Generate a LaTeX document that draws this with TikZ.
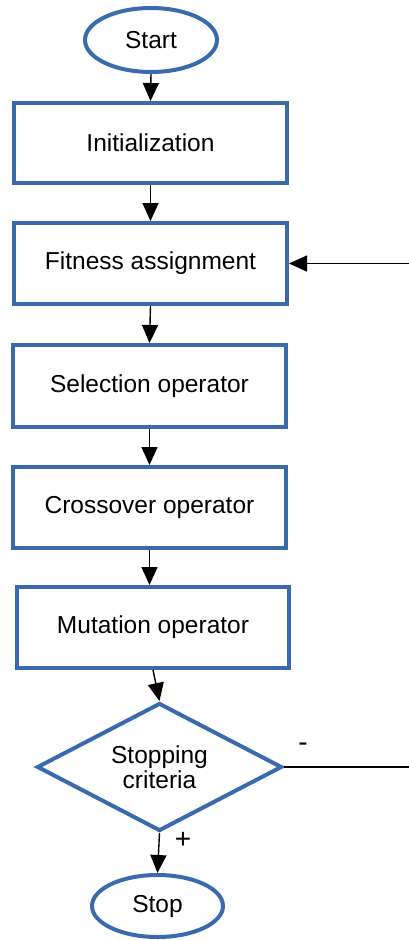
\documentclass[tikz,border=0pt]{standalone}
\usepackage{fontspec}
\setmainfont{Liberation Sans}
\usetikzlibrary{shapes.geometric,arrows.meta}
\definecolor{boxblue}{HTML}{3A6AAE}
\begin{document}
\begin{tikzpicture}[x=1pt,y=-1pt,
  every node/.style={font=\fontsize{24.5}{28}\selectfont},
  term/.style={ellipse,draw=boxblue,line width=4pt,inner sep=0pt},
  proc/.style={rectangle,draw=boxblue,line width=4pt,minimum width=273pt,minimum height=80pt,inner sep=0pt},
  decide/.style={diamond,draw=boxblue,line width=4pt,minimum width=245pt,minimum height=128pt,inner sep=0pt,aspect=1.9,align=center},
  flow/.style={line width=1.4pt,-{Triangle[length=18pt,width=16pt]}},
  plain/.style={line width=1.4pt}]
\path[use as bounding box] (0,0) rectangle (409,940);
\node[term,minimum width=132pt,minimum height=64pt] (start) at (151,40) {Start};
\node[proc] (init) at (150.5,143) {Initialization};
\node[proc,minimum height=81pt] (fit) at (150.5,263.5) {Fitness assignment};
\node[proc,minimum height=82pt] (sel) at (149.5,386) {Selection operator};
\node[proc,minimum height=81pt] (cross) at (149.5,507.5) {Crossover operator};
\node[proc,minimum height=81pt,minimum width=272pt] (mut) at (153,627.5) {Mutation operator};
\node[decide] (dia) at (159.5,767) {Stopping\\[-3pt]criteria};
\node[term,minimum width=131pt,minimum height=62pt] (stop) at (157.5,906) {Stop};
\coordinate (fbA) at (410,767);
\coordinate (fbB) at (410,263.5);
\draw[flow] (start.south) -- (init.north);
\draw[flow] (init.south) -- (fit.north);
\draw[flow] (fit.south) -- (sel.north);
\draw[flow] (sel.south) -- (cross.north);
\draw[flow] (cross.south) -- (cross.south |- mut.north);
\draw[flow] (mut.south) -- (dia.north);
\draw[flow] (dia.south) -- (stop.north);
\draw[plain] (dia.east) -- (fbA);
\draw[flow] (fbB) -- (fit.east);
\node[font=\fontsize{28}{30}\selectfont] (minus) at (303,747) {-};
\node[font=\fontsize{28}{30}\selectfont] (plus) at (183,840) {+};
\end{tikzpicture}
\end{document}
